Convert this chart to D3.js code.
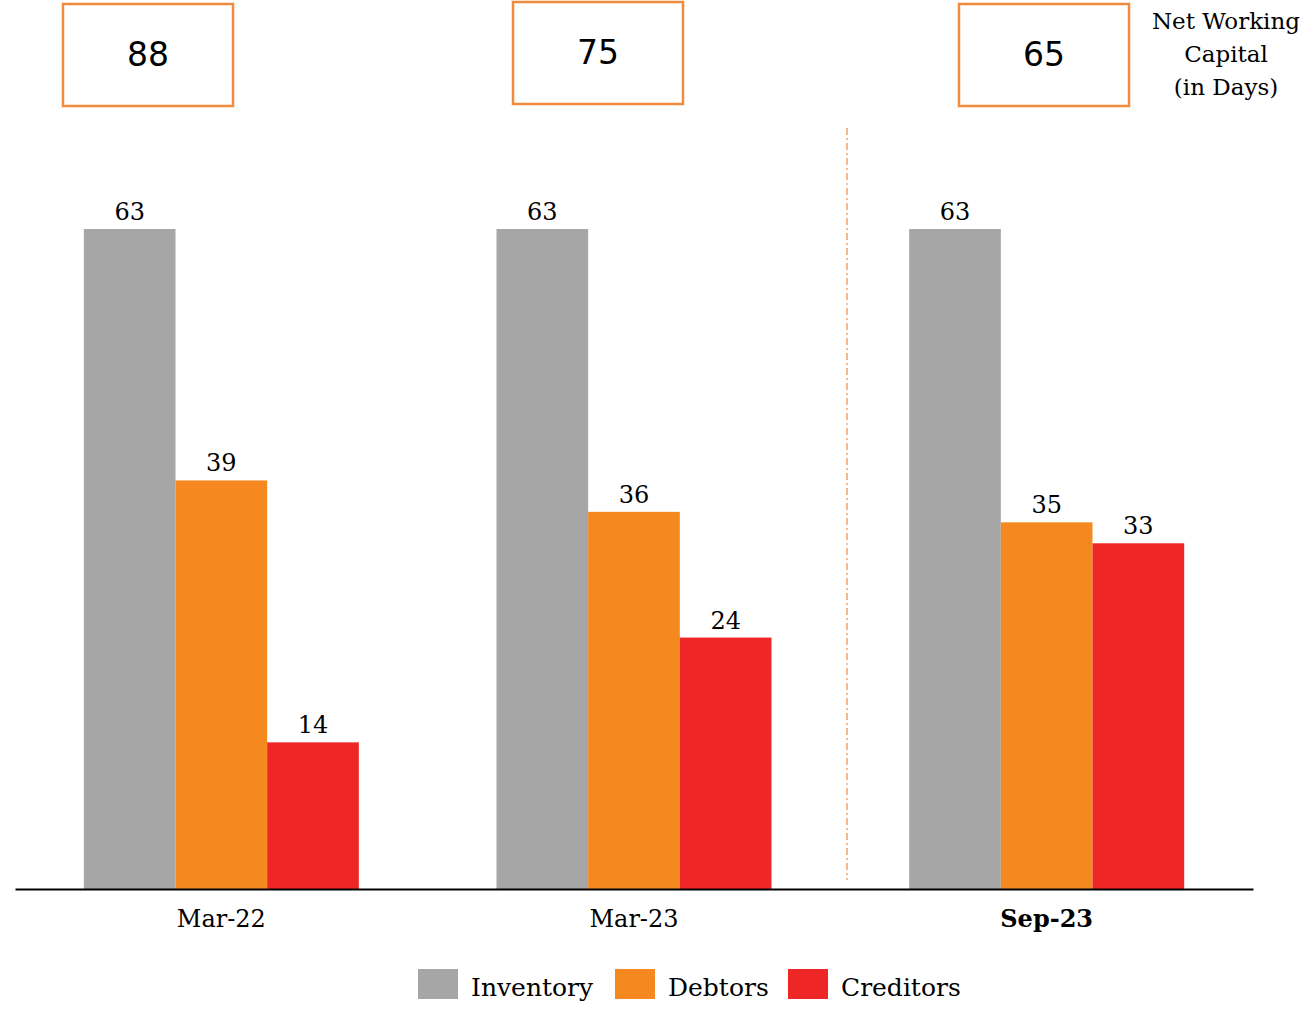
<!DOCTYPE html>
<html><head><meta charset="utf-8">
<script src="https://cdn.jsdelivr.net/npm/d3@7"></script>
<style>body{margin:0;background:#fff}svg{display:block}</style>
</head><body>
<script>
const categories = ["Mar-22", "Mar-23", "Sep-23"];
const seriesNames = ["Inventory", "Debtors", "Creditors"];
const inventory = [63, 63, 63];
const debtors = [39, 36, 35];
const creditors = [14, 24, 33];
const netWorkingCapital = [88, 75, 65];
const colors = ["#A6A6A6", "#F5891F", "#EE2726"];

const W = 1307, H = 1009;
const serif = "'DejaVu Serif', serif";
const svg = d3.select("body").append("svg").attr("width", W).attr("height", H);

const baseY = 889;
const x = d3.scaleBand().domain(categories).range([15, 1253]);
const xs = d3.scaleBand().domain(seriesNames).range([0, 275]);
const y = d3.scaleLinear().domain([0, 63]).range([baseY, 229]);
const series = [inventory, debtors, creditors];

categories.forEach((c, i) => {
  const g = svg.append("g").attr("transform", `translate(${x(c) + (x.bandwidth() - 275) / 2},0)`);
  seriesNames.forEach((s, j) => {
    const v = series[j][i];
    g.append("rect").attr("x", xs(s)).attr("y", y(v)).attr("width", xs.bandwidth())
      .attr("height", baseY - y(v)).attr("fill", colors[j]);
    g.append("text").attr("x", xs(s) + xs.bandwidth() / 2).attr("y", y(v) - 9)
      .attr("text-anchor", "middle").attr("font-family", serif).attr("font-size", 24)
      .attr("fill", "#000").text(v);
  });
});

// axis
const axis = svg.append("g").attr("transform", `translate(0,${baseY})`)
  .call(d3.axisBottom(x).tickSize(0).tickPadding(21));
axis.select(".domain").attr("stroke", "#000").attr("stroke-width", 2);
axis.selectAll("text").attr("font-family", serif).attr("font-size", 24).attr("fill", "#000")
  .attr("font-weight", (d, i) => i === 2 ? "bold" : "normal");

// dashed separator
svg.append("line").attr("x1", 847).attr("x2", 847).attr("y1", 128).attr("y2", 880)
  .attr("stroke", "#F4A36A").attr("stroke-width", 1.5).attr("stroke-dasharray", "7,3,2,3");

// NWC boxes
const boxY = [4, 2, 4];
const boxX = [63, 513, 959];
netWorkingCapital.forEach((v, i) => {
  svg.append("rect").attr("x", boxX[i]).attr("y", boxY[i]).attr("width", 170).attr("height", 102)
    .attr("fill", "none").attr("stroke", "#F08A3C").attr("stroke-width", 2.5);
  svg.append("text").attr("x", boxX[i] + 85).attr("y", boxY[i] + 62).attr("text-anchor", "middle")
    .attr("font-family", "'DejaVu Sans', Verdana, sans-serif").attr("font-size", 33).attr("fill", "#000").text(v);
});
const nwcLabel = ["Net Working", "Capital", "(in Days)"];
nwcLabel.forEach((t, i) => {
  svg.append("text").attr("x", 1226).attr("y", 29 + i * 33).attr("text-anchor", "middle")
    .attr("font-family", serif).attr("font-size", 23).attr("fill", "#000").text(t);
});

// legend
const legX = [418, 615, 788];
seriesNames.forEach((s, j) => {
  svg.append("rect").attr("x", legX[j]).attr("y", 969).attr("width", 40).attr("height", 30).attr("fill", colors[j]);
  svg.append("text").attr("x", legX[j] + 53).attr("y", 996).attr("font-family", serif)
    .attr("font-size", 25).attr("fill", "#000").text(s);
});
</script>
</body></html>
